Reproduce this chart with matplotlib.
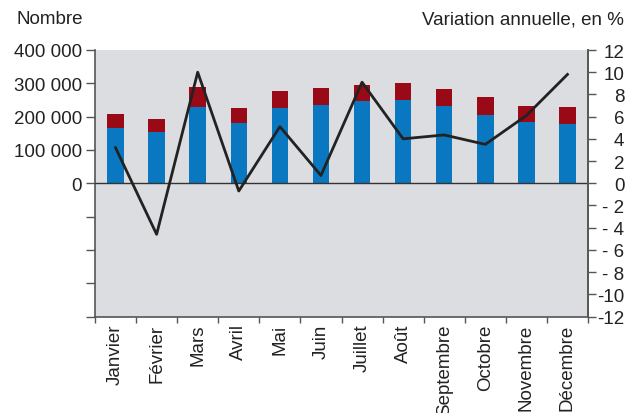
import matplotlib
matplotlib.use("Agg")
import matplotlib.pyplot as plt
from matplotlib.transforms import ScaledTranslation
import numpy as np

months = ["Janvier", "Février", "Mars", "Avril", "Mai", "Juin", "Juillet",
          "Août", "Septembre", "Octobre", "Novembre", "Décembre"]
blue_vals = [165000, 153000, 229000, 180000, 225000, 236000, 248000,
             249000, 232000, 205000, 184000, 177000]
total_vals = [208000, 193000, 288000, 226000, 276000, 287000, 296000,
              300000, 284000, 260000, 233000, 229000]
red_vals = [t - b for t, b in zip(total_vals, blue_vals)]
variation = [3.2, -4.6, 10.0, -0.7, 5.1, 0.7, 9.1, 4.0, 4.35, 3.5, 6.1, 9.8]

left_ticks = [400000, 300000, 200000, 100000, 0, -100000, -200000, -300000, -400000]
left_labels = ["400 000", "300 000", "200 000", "100 000", "0", "", "", "", ""]
right_ticks = [12, 10, 8, 6, 4, 2, 0, -2, -4, -6, -8, -10, -12]
right_labels = ["12", "10", "8", "6", "4", "2", "0", "- 2", "- 4", "- 6", "- 8", "-10", "-12"]

plt.rcParams['font.family'] = ['Liberation Sans', 'DejaVu Sans']
FS = 13.5
BLUE = "#0a78c0"
RED = "#9a0a16"
BG = "#dcdde0"
AX = "#555555"
TXT = "#222222"

fig = plt.figure(figsize=(6.37, 4.14), dpi=100)
ax = fig.add_axes([95/637, 1 - 317.5/414, (588-95)/637, (317.5-51)/414])
ax.set_facecolor(BG)
x = np.arange(len(months))
w = 0.4
ax.bar(x, blue_vals, width=w, color=BLUE, zorder=2)
ax.bar(x, red_vals, bottom=blue_vals, width=w, color=RED, zorder=2)
ax.axhline(0, color="#333333", lw=1.0, zorder=3)
ax.set_xlim(-0.5, len(months) - 0.5)
ax.set_ylim(-400000, 400000)
ax.set_yticks(left_ticks)
ax.set_yticklabels(left_labels, fontsize=FS, color=TXT)
ax.set_xticks(x)
ax.set_xticklabels(months, rotation=90, fontsize=FS, color=TXT, va="top")
ax.set_xticks(np.arange(-0.5, len(months)), minor=True)
ax.tick_params(axis="x", which="major", length=0, pad=5)
ax.tick_params(axis="x", which="minor", length=4.3, width=1, color=AX, direction="out")
ax.tick_params(axis="y", length=6.5, width=1, color=AX, direction="out", pad=3)
ax.spines["top"].set_visible(False)
for s in ["left", "bottom", "right"]:
    ax.spines[s].set_color(AX)
    ax.spines[s].set_linewidth(1.2)

ax2 = ax.twinx()
ax2.plot(x, variation, color=TXT, lw=2.0, zorder=5)
ax2.set_ylim(-12, 12)
ax2.set_yticks(right_ticks)
ax2.set_yticklabels(right_labels, fontsize=FS, color=TXT)
ax2.tick_params(axis="y", length=6, width=1, color=AX, direction="out", pad=3)
for s in ["top", "left", "bottom"]:
    ax2.spines[s].set_visible(False)
ax2.spines["right"].set_color(AX)
ax2.spines["right"].set_linewidth(1.2)
off = ScaledTranslation(24/100, 0, fig.dpi_scale_trans)
for lab in ax2.get_yticklabels():
    lab.set_horizontalalignment("right")
    lab.set_transform(lab.get_transform() + off)

fig.text(16/637, 1 - 20/414, "Nombre", fontsize=FS, color=TXT, va="center", ha="left")
fig.text(624/637, 1 - 20/414, "Variation annuelle, en %", fontsize=FS, color=TXT,
         va="center", ha="right")

fig.savefig("out.png", dpi=100)
